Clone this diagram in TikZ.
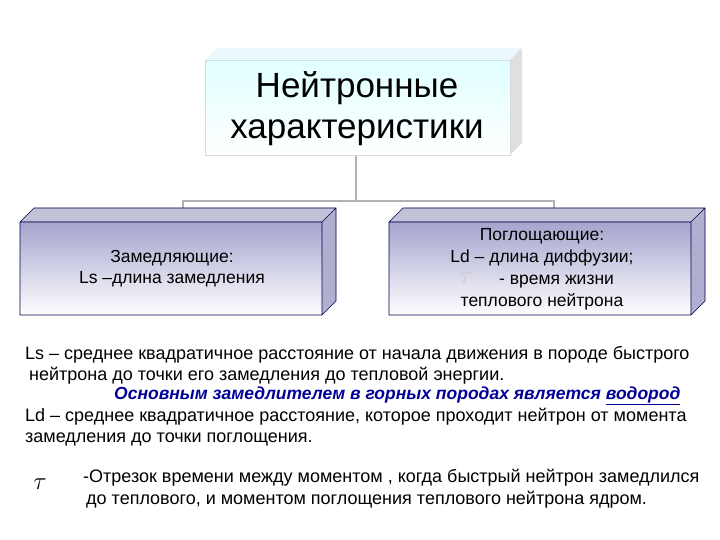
\documentclass[tikz,border=0pt]{standalone}
\usepackage{fontspec}
\setmainfont{Liberation Sans}
\begin{document}
\begin{tikzpicture}[x=1pt,y=-1pt,
  txt/.style={font=\fontsize{17.5}{21}\selectfont,align=center},
  body/.style={font=\fontsize{18}{20}\selectfont,anchor=west,inner sep=0}]
\path[use as bounding box] (0,0) rectangle (720,540);
% connectors
\coordinate (j) at (356,201);
\coordinate (jl) at (183,201);
\coordinate (jr) at (554,201);
\coordinate (tl) at (183,208);
\coordinate (tr) at (554,208);
\coordinate (tb) at (356,155);
\draw[gray!60,line width=1.5pt] (tb) -- (j);
\draw[gray!60,line width=1.5pt] (tl) -- (jl) -- (jr) -- (tr);
% top box
\fill[cyan!8] (205,60) -- (217,48) -- (522,48) -- (510,60) -- cycle;
\fill[gray!25] (510,60) -- (522,48) -- (522,143) -- (510,155) -- cycle;
\shade[top color=cyan!12,bottom color=white] (205,60) rectangle (510,155);
\draw[gray!30] (205,60) rectangle (510,155);
\node[font=\fontsize{35}{41}\selectfont,align=center] (top) at (357,109) {Нейтронные\\характеристики};
% left box
\fill[blue!22!gray!40] (20,222) -- (34,208) -- (336,208) -- (322,222) -- cycle;
\fill[blue!25!gray!50] (322,222) -- (336,208) -- (336,301) -- (322,315) -- cycle;
\shade[top color=blue!30!gray!55,bottom color=white] (20,222) rectangle (322,315);
\draw[blue!30!black,line width=0.6pt] (20,222) -- (34,208) -- (336,208) -- (336,301) -- (322,315) -- (20,315) -- cycle (20,222) -- (322,222) -- (322,315) (322,222) -- (336,208);
\node[txt] (l) at (172,269) {Замедляющие:\\Ls –длина замедления};
% right box
\fill[blue!22!gray!40] (389,222) -- (403,208) -- (705,208) -- (691,222) -- cycle;
\fill[blue!25!gray!50] (691,222) -- (705,208) -- (705,301) -- (691,315) -- cycle;
\shade[top color=blue!30!gray!55,bottom color=white] (389,222) rectangle (691,315);
\draw[blue!30!black,line width=0.6pt] (389,222) -- (403,208) -- (705,208) -- (705,301) -- (691,315) -- (389,315) -- cycle (389,222) -- (691,222) -- (691,315) (691,222) -- (705,208);
\node[txt,font=\fontsize{17.5}{22}\selectfont] (r) at (542,269) {Поглощающие:\\Ld – длина диффузии;\\\phantom{MM}- время жизни\\теплового нейтрона};
\node[text=gray!40,font=\fontsize{26}{26}\selectfont] (t1) at (466,278) {$\tau$};
% bottom text
\node[body] (b1) at (25,355) {Ls – среднее квадратичное расстояние от начала движения в породе быстрого};
\node[body] (b2) at (29,376) {нейтрона до точки его замедления до тепловой энергии.};
\node[body,text=blue!60!black,font=\fontsize{17.5}{20}\selectfont\bfseries\itshape] (b3) at (114,396) {Основным замедлителем в горных породах является \underline{водород}};
\node[body] (b4) at (25,417) {Ld – среднее квадратичное расстояние, которое проходит нейтрон от момента};
\node[body] (b5) at (25,439) {замедления до точки поглощения.};
\node[font=\fontsize{44}{44}\selectfont] (tau) at (40,484) {$\mathbf{\tau}$};
\node[body] (b6) at (83,478) {-Отрезок времени между моментом , когда быстрый нейтрон замедлился};
\node[body] (b7) at (86,500) {до теплового, и моментом поглощения теплового нейтрона ядром.};
\end{tikzpicture}
\end{document}
